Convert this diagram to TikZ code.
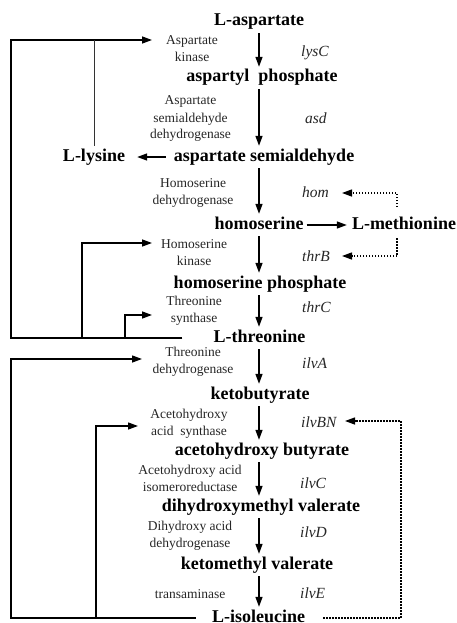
\documentclass[tikz,border=0pt]{standalone}
\usepackage{fontspec}
\setmainfont{Liberation Serif}
\usetikzlibrary{arrows.meta}
\begin{document}
\begin{tikzpicture}[x=1pt,y=-1pt,
  metab/.style={font=\fontsize{18}{20}\selectfont\bfseries, text height=12pt, text depth=4pt, inner xsep=2pt, inner ysep=3pt},
  enz/.style={font=\fontsize{13.5}{17}\selectfont, align=center, inner sep=0pt, text=black!85},
  gene/.style={font=\fontsize{15.5}{18}\selectfont\itshape, anchor=west, inner sep=0pt, text=black!85},
  tipa/.style={-{Triangle[length=10pt,width=7pt]}},
  flow/.style={tipa, line width=1.4pt},
  fb/.style={tipa, line width=1.3pt},
  dfb/.style={tipa, line width=1.3pt, dash pattern=on 1.5pt off 1.5pt}
]
\useasboundingbox (0,0) rectangle (457,623);
\coordinate (ax) at (259,0);

% metabolites
\node[metab] (asp)  at (259,22)    {L-aspartate};
\node[metab] (aspp) at (262,78)    {aspartyl\ \ phosphate};
\node[metab] (asa)  at (264,157)   {aspartate semialdehyde};
\node[metab] (lys)  at (94,157)    {L-lysine};
\node[metab] (hom)  at (259,225)   {homoserine};
\node[metab] (meth) at (404,225)   {L-methionine};
\node[metab] (homp) at (260,284)   {homoserine phosphate};
\node[metab] (thr)  at (259.5,338) {L-threonine};
\node[metab] (kb)   at (260,395)   {ketobutyrate};
\node[metab] (ahb)  at (262,451)   {acetohydroxy butyrate};
\node[metab] (dhmv) at (261,507)   {dihydroxymethyl valerate};
\node[metab] (kmv)  at (257,565)   {ketomethyl valerate};
\node[metab] (ile)  at (258.5,618) {L-isoleucine};

% enzymes
\node[enz] (e1)  at (192,49)    {Aspartate\\kinase};
\node[enz] (e2)  at (190.5,119) {Aspartate\\semialdehyde\\dehydrogenase};
\node[enz] (e3)  at (193,193)   {Homoserine\\dehydrogenase};
\node[enz] (e4)  at (194,253)   {Homoserine\\kinase};
\node[enz] (e5)  at (194,311)   {Threonine\\synthase};
\node[enz] (e6)  at (193,362)   {Threonine\\dehydrogenase};
\node[enz] (e7)  at (189,423.5) {Acetohydroxy\\acid\ \ synthase};
\node[enz] (e8)  at (190,478.5) {Acetohydroxy acid\\isomeroreductase};
\node[enz] (e9)  at (190,536)   {Dihydroxy acid\\dehydrogenase};
\node[enz] (e10) at (190,594)   {transaminase};

% genes
\node[gene] (g1)  at (301,53)  {lysC};
\node[gene] (g2)  at (305,118) {asd};
\node[gene] (g3)  at (302,192) {hom};
\node[gene] (g4)  at (302,256) {thrB};
\node[gene] (g5)  at (302,307) {thrC};
\node[gene] (g6)  at (302,363) {ilvA};
\node[gene] (g7)  at (301,422) {ilvBN};
\node[gene] (g8)  at (300,483) {ilvC};
\node[gene] (g9)  at (300,532) {ilvD};
\node[gene] (g10) at (300,593) {ilvE};

% main pathway
\foreach \a/\b in {asp/aspp, aspp/asa, asa/hom, hom/homp, homp/thr, thr/kb, kb/ahb, ahb/dhmv, dhmv/kmv, kmv/ile}
  \draw[flow] (\a.south -| ax) -- (\b.north -| ax);
\draw[flow, shorten <=6pt, shorten >=10pt] (asa) -- (lys);
\draw[flow, shorten <=1pt, shorten >=3pt] (hom) -- (meth);

% feedback (solid)
\coordinate (tl1) at (11,40);
\coordinate (tip1) at (152,40);
\coordinate (thrL) at ([xshift=-29pt]thr.west);
\draw[fb] (thrL) -| (tl1) -- (tip1);
\draw[line width=1pt, black!80] (lys.north) -- (lys.north |- tl1);
\coordinate (hk) at (82,338);
\coordinate (tip2) at (152,243);
\draw[fb] (hk) |- (tip2);
\coordinate (ts) at (125,338);
\coordinate (tip3) at (152,315);
\draw[fb] (ts) |- (tip3);
\coordinate (tl2) at (11,359);
\coordinate (tip4) at (142,359);
\coordinate (ileL) at ([xshift=-14pt]ile.west);
\draw[fb] (ileL) -| (tl2) -- (tip4);
\coordinate (ahs) at (96,618);
\coordinate (tip5) at (138,426);
\draw[fb] (ahs) |- (tip5);

% feedback (dotted)
\coordinate (mu) at (397,207);
\coordinate (tiph) at (342,193);
\draw[dfb] (mu) |- (tiph);
\coordinate (md) at (397,238);
\coordinate (tipb) at (342,256);
\draw[dfb] (md) |- (tipb);
\coordinate (ileR) at ([xshift=16pt]ile.east);
\coordinate (bnC) at (401,421);
\coordinate (tipbn) at (345,421);
\draw[dfb] (ileR) -| (bnC) -- (tipbn);
\end{tikzpicture}
\end{document}
